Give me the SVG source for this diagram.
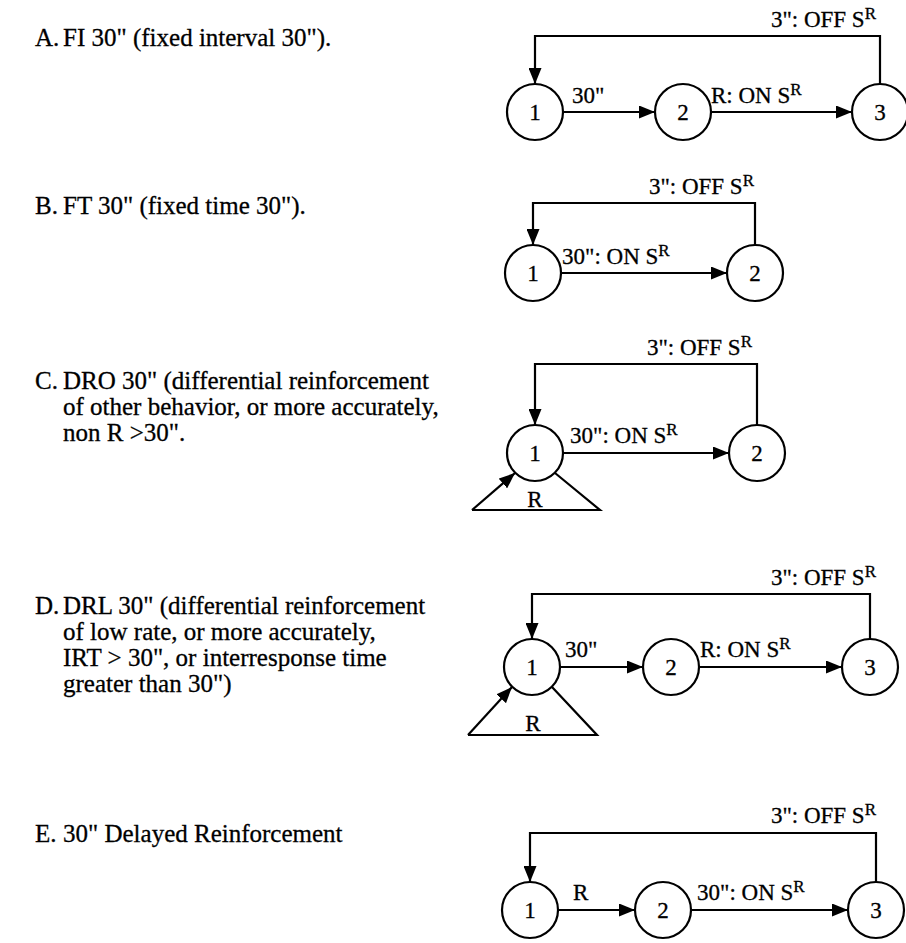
<svg xmlns="http://www.w3.org/2000/svg" width="906" height="943" viewBox="0 0 906 943">
<defs>
<marker id="ah" markerUnits="userSpaceOnUse" markerWidth="17" markerHeight="13" refX="16" refY="6.5" orient="auto">
<path d="M0,0 L16,6.5 L0,13 z" fill="#000"/>
</marker>
<style>
.t{font-family:"Liberation Serif","Times New Roman",serif;font-size:25px;fill:#000;stroke:#000;stroke-width:0.3}
.l{font-family:"Liberation Serif","Times New Roman",serif;font-size:23px;fill:#000;stroke:#000;stroke-width:0.3}
.n{font-family:"Liberation Serif","Times New Roman",serif;font-size:23px;fill:#000;stroke:#000;stroke-width:0.3;text-anchor:middle}
.sup{font-size:17px}
circle{fill:#fff;stroke:#000;stroke-width:2.2}
.c{fill:none;stroke:#000;stroke-width:2.2}
.a{fill:none;stroke:#000;stroke-width:2.2;marker-end:url(#ah)}
</style>
</defs>
<rect width="906" height="943" fill="#fff"/>

<!-- left captions -->
<g id="captions">
<text class="t" x="35" y="46">A.<tspan x="63">FI 30" (fixed interval 30").</tspan></text>
<text class="t" x="35" y="214">B.<tspan x="63">FT 30" (fixed time 30").</tspan></text>
<text class="t" x="35" y="389">C.<tspan x="63">DRO 30" (differential reinforcement</tspan></text>
<text class="t" x="63" y="415">of other behavior, or more accurately,</text>
<text class="t" x="63" y="441">non R &gt;30".</text>
<text class="t" x="35" y="614">D.<tspan x="63">DRL 30" (differential reinforcement</tspan></text>
<text class="t" x="63" y="640">of low rate, or  more accurately,</text>
<text class="t" x="63" y="666">IRT &gt; 30", or interresponse time</text>
<text class="t" x="63" y="692">greater than 30")</text>
<text class="t" x="35" y="842">E.<tspan x="63">30" Delayed Reinforcement</tspan></text>
</g>

<!-- connectors -->
<g id="connectors">
<!-- A -->
<path class="a" d="M880,84 V36 H535 V84"/>
<path class="a" d="M563,112 H655"/>
<path class="a" d="M711,112 H852"/>
<!-- B -->
<path class="a" d="M755,245 V203 H533 V245"/>
<path class="a" d="M561,273 H727"/>
<!-- C -->
<path class="a" d="M757,425 V364 H535 V425"/>
<path class="a" d="M563,453 H729"/>
<path class="a" d="M472,510 L515,473"/>
<path class="c" d="M472,510 H600 L555,473"/>
<!-- D -->
<path class="a" d="M870,639 V594 H532 V639"/>
<path class="a" d="M560,667 H643"/>
<path class="a" d="M699,667 H842"/>
<path class="a" d="M468,735 L512,687"/>
<path class="c" d="M468,735 H597 L552,687"/>
<!-- E -->
<path class="a" d="M876,882 V833 H530 V882"/>
<path class="a" d="M558,910 H635"/>
<path class="a" d="M691,910 H848"/>
</g>

<!-- connector labels -->
<g id="labels">
<text class="l" x="876" y="27" text-anchor="end">3": OFF S<tspan class="sup" dy="-8">R</tspan></text>
<text class="l" x="572" y="103">30"</text>
<text class="l" x="711" y="103">R: ON S<tspan class="sup" dy="-8">R</tspan></text>

<text class="l" x="754" y="194" text-anchor="end">3": OFF S<tspan class="sup" dy="-8">R</tspan></text>
<text class="l" x="562" y="264">30": ON S<tspan class="sup" dy="-8">R</tspan></text>

<text class="l" x="752" y="355" text-anchor="end">3": OFF S<tspan class="sup" dy="-8">R</tspan></text>
<text class="l" x="570" y="443">30": ON S<tspan class="sup" dy="-8">R</tspan></text>
<text class="n" x="535" y="507">R</text>

<text class="l" x="876" y="585" text-anchor="end">3": OFF S<tspan class="sup" dy="-8">R</tspan></text>
<text class="l" x="565" y="657">30"</text>
<text class="l" x="700" y="657">R: ON S<tspan class="sup" dy="-8">R</tspan></text>
<text class="n" x="533" y="731">R</text>

<text class="l" x="876" y="823" text-anchor="end">3": OFF S<tspan class="sup" dy="-8">R</tspan></text>
<text class="l" x="573" y="900">R</text>
<text class="l" x="697" y="900">30": ON S<tspan class="sup" dy="-8">R</tspan></text>
</g>

<!-- nodes -->
<g id="A1"><circle cx="535" cy="112" r="28"/><text class="n" x="535" y="120">1</text></g>
<g id="A2"><circle cx="683" cy="112" r="28"/><text class="n" x="683" y="120">2</text></g>
<g id="A3"><circle cx="880" cy="112" r="28"/><text class="n" x="880" y="120">3</text></g>

<g id="B1"><circle cx="533" cy="273" r="28"/><text class="n" x="533" y="281">1</text></g>
<g id="B2"><circle cx="755" cy="273" r="28"/><text class="n" x="755" y="281">2</text></g>

<g id="C1"><circle cx="535" cy="453" r="28"/><text class="n" x="535" y="461">1</text></g>
<g id="C2"><circle cx="757" cy="453" r="28"/><text class="n" x="757" y="461">2</text></g>

<g id="D1"><circle cx="532" cy="667" r="28"/><text class="n" x="532" y="675">1</text></g>
<g id="D2"><circle cx="671" cy="667" r="28"/><text class="n" x="671" y="675">2</text></g>
<g id="D3"><circle cx="870" cy="667" r="28"/><text class="n" x="870" y="675">3</text></g>

<g id="E1"><circle cx="530" cy="910" r="28"/><text class="n" x="530" y="918">1</text></g>
<g id="E2"><circle cx="663" cy="910" r="28"/><text class="n" x="663" y="918">2</text></g>
<g id="E3"><circle cx="876" cy="910" r="28"/><text class="n" x="876" y="918">3</text></g>
</svg>
